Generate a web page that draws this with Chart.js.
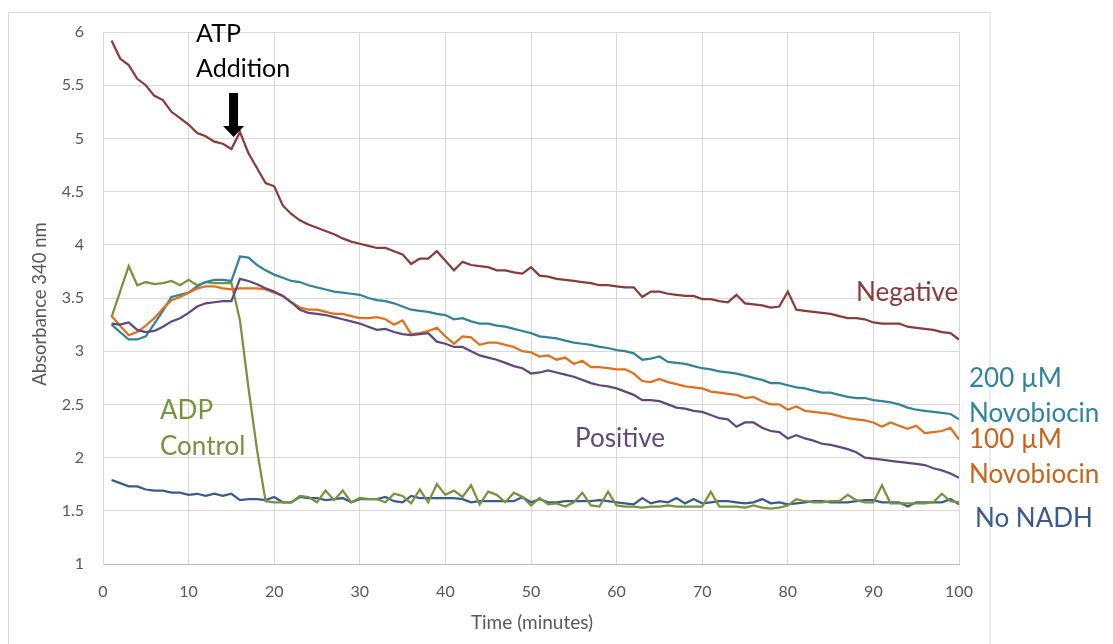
<!DOCTYPE html>
<html>
<head>
<meta charset="utf-8">
<script src="https://cdn.jsdelivr.net/npm/chart.js@4.4.1/dist/chart.umd.min.js"></script>
<style>
  html, body { margin: 0; padding: 0; background: #ffffff; }
  #wrap { width: 1113px; height: 644px; position: relative; }
</style>
</head>
<body>
<div id="wrap"><canvas id="chart" width="1113" height="644"></canvas></div>
<script>
// Time points (minutes)
const minutes = [
  1,2,3,4,5,6,7,8,9,10,11,12,13,14,15,16,17,18,19,20,
  21,22,23,24,25,26,27,28,29,30,31,32,33,34,35,36,37,38,39,40,
  41,42,43,44,45,46,47,48,49,50,51,52,53,54,55,56,57,58,59,60,
  61,62,63,64,65,66,67,68,69,70,71,72,73,74,75,76,77,78,79,80,
  81,82,83,84,85,86,87,88,89,90,91,92,93,94,95,96,97,98,99,100
];

// Absorbance at 340 nm for each condition
const negative = [
  5.92,5.75,5.69,5.56,5.50,5.40,5.36,5.25,5.19,5.13,5.05,5.02,4.97,4.95,4.90,5.06,4.86,4.72,4.58,4.55,
  4.37,4.29,4.23,4.19,4.16,4.13,4.10,4.06,4.03,4.01,3.99,3.97,3.97,3.94,3.91,3.82,3.87,3.87,3.94,3.85,
  3.76,3.84,3.81,3.80,3.79,3.76,3.76,3.74,3.73,3.79,3.71,3.70,3.68,3.67,3.66,3.65,3.64,3.62,3.62,3.61,
  3.60,3.60,3.51,3.56,3.56,3.54,3.53,3.52,3.52,3.49,3.49,3.47,3.46,3.53,3.45,3.44,3.43,3.41,3.42,3.56,
  3.39,3.38,3.37,3.36,3.35,3.33,3.31,3.31,3.30,3.27,3.26,3.26,3.26,3.23,3.22,3.21,3.20,3.18,3.17,3.11
];
const novobiocin200 = [
  3.25,3.18,3.11,3.11,3.14,3.26,3.38,3.51,3.53,3.55,3.61,3.65,3.67,3.67,3.66,3.89,3.88,3.81,3.76,3.72,
  3.69,3.66,3.65,3.62,3.60,3.58,3.56,3.55,3.54,3.53,3.50,3.48,3.47,3.45,3.42,3.39,3.38,3.37,3.35,3.34,
  3.30,3.31,3.28,3.26,3.26,3.24,3.23,3.21,3.19,3.17,3.14,3.13,3.12,3.10,3.08,3.07,3.06,3.04,3.03,3.01,
  3.00,2.98,2.92,2.93,2.95,2.90,2.89,2.88,2.86,2.84,2.83,2.81,2.80,2.79,2.77,2.75,2.73,2.70,2.70,2.68,
  2.66,2.65,2.63,2.61,2.61,2.59,2.57,2.56,2.56,2.54,2.53,2.52,2.50,2.47,2.45,2.44,2.43,2.42,2.41,2.36
];
const novobiocin100 = [
  3.33,3.24,3.15,3.18,3.24,3.31,3.40,3.48,3.51,3.55,3.59,3.61,3.61,3.59,3.58,3.59,3.59,3.59,3.58,3.55,
  3.52,3.46,3.41,3.39,3.39,3.37,3.35,3.35,3.33,3.31,3.31,3.32,3.30,3.25,3.29,3.16,3.17,3.19,3.22,3.14,
  3.07,3.14,3.13,3.06,3.08,3.08,3.06,3.04,3.00,2.99,2.95,2.96,2.92,2.94,2.88,2.91,2.85,2.85,2.84,2.83,
  2.83,2.79,2.72,2.71,2.74,2.71,2.69,2.67,2.66,2.65,2.62,2.61,2.60,2.59,2.56,2.57,2.53,2.50,2.50,2.45,
  2.48,2.44,2.43,2.42,2.41,2.39,2.37,2.36,2.35,2.33,2.29,2.33,2.30,2.27,2.30,2.23,2.24,2.25,2.28,2.17
];
const positive = [
  3.26,3.25,3.27,3.20,3.18,3.19,3.23,3.28,3.31,3.36,3.42,3.45,3.46,3.47,3.47,3.68,3.66,3.63,3.59,3.56,
  3.52,3.46,3.39,3.36,3.35,3.34,3.32,3.30,3.28,3.26,3.23,3.20,3.21,3.18,3.16,3.15,3.16,3.17,3.09,3.07,
  3.04,3.04,3.00,2.96,2.94,2.92,2.89,2.86,2.84,2.79,2.80,2.82,2.80,2.78,2.76,2.73,2.70,2.68,2.67,2.65,
  2.62,2.59,2.54,2.54,2.53,2.50,2.47,2.46,2.44,2.43,2.40,2.37,2.36,2.29,2.33,2.33,2.28,2.25,2.24,2.18,
  2.21,2.18,2.16,2.13,2.12,2.10,2.08,2.05,2.00,1.99,1.98,1.97,1.96,1.95,1.94,1.93,1.90,1.88,1.85,1.81
];
const adpControl = [
  3.32,3.56,3.80,3.62,3.65,3.63,3.64,3.66,3.62,3.67,3.62,3.65,3.64,3.64,3.64,3.29,2.65,2.07,1.59,1.58,
  1.58,1.58,1.64,1.63,1.58,1.69,1.60,1.69,1.58,1.62,1.61,1.61,1.58,1.66,1.64,1.57,1.70,1.58,1.75,1.65,
  1.69,1.63,1.74,1.56,1.68,1.65,1.58,1.67,1.63,1.55,1.62,1.56,1.57,1.54,1.58,1.67,1.55,1.54,1.68,1.55,
  1.54,1.54,1.53,1.54,1.54,1.55,1.54,1.54,1.54,1.54,1.68,1.54,1.54,1.54,1.53,1.55,1.53,1.52,1.53,1.55,
  1.61,1.59,1.58,1.58,1.59,1.59,1.65,1.60,1.58,1.58,1.74,1.57,1.57,1.57,1.57,1.57,1.58,1.66,1.59,1.58
];
const noNADH = [
  1.79,1.76,1.73,1.73,1.70,1.69,1.69,1.67,1.67,1.65,1.66,1.64,1.66,1.64,1.66,1.60,1.61,1.61,1.60,1.63,
  1.58,1.58,1.63,1.62,1.62,1.60,1.61,1.62,1.58,1.61,1.61,1.61,1.63,1.59,1.58,1.64,1.62,1.62,1.62,1.62,
  1.62,1.61,1.58,1.59,1.59,1.59,1.59,1.59,1.63,1.58,1.61,1.58,1.58,1.59,1.59,1.59,1.59,1.60,1.59,1.58,
  1.57,1.56,1.62,1.57,1.59,1.58,1.62,1.57,1.61,1.57,1.58,1.59,1.59,1.58,1.57,1.58,1.61,1.57,1.58,1.56,
  1.57,1.58,1.59,1.59,1.58,1.58,1.58,1.59,1.60,1.60,1.58,1.58,1.58,1.54,1.58,1.58,1.58,1.58,1.61,1.56
];

// Axis tick settings
const xTicks = { min: 0, max: 100, step: 10 };
const yTicks = { min: 1, max: 6, step: 0.5 };

const COLORS = {
  negative: '#8a3b3b',
  nov200: '#31849b',
  nov100: '#e0701e',
  nov100Text: '#c8641c',
  positive: '#604a7b',
  adp: '#77933c',
  noNADH: '#3b5a8f',
  grid: '#d9d9d9',
  text: '#595959'
};

const FONT = 'Lato, "Open Sans", sans-serif';

function series(values) {
  return minutes.map((m, i) => ({ x: m, y: values[i] }));
}

function lineSet(label, values, color) {
  return {
    label,
    data: series(values),
    borderColor: color,
    backgroundColor: color,
    borderWidth: 2.25,
    pointRadius: 0,
    tension: 0,
    fill: false
  };
}

// Draws the outer frame, in-chart labels, axis titles and the ATP arrow
const annotations = {
  id: 'annotations',
  beforeDraw(chart) {
    const ctx = chart.ctx;
    ctx.save();
    ctx.fillStyle = '#ffffff';
    ctx.fillRect(0, 0, chart.width, chart.height);
    ctx.strokeStyle = COLORS.grid;
    ctx.lineWidth = 1;
    ctx.strokeRect(8.5, 12.5, 981.5, 700);
    ctx.restore();
  },
  afterDraw(chart) {
    const ctx = chart.ctx;
    const xs = chart.scales.x;
    ctx.save();

    // axis titles
    ctx.fillStyle = COLORS.text;
    ctx.textAlign = 'center';
    ctx.textBaseline = 'middle';
    ctx.font = '19px ' + FONT;
    ctx.fillText('Time (minutes)', 532, 623);
    ctx.save();
    ctx.translate(40, 304);
    ctx.rotate(-Math.PI / 2);
    ctx.font = '18.5px ' + FONT;
    ctx.fillText('Absorbance 340 nm', 0, 0);
    ctx.restore();

    // ATP addition note and arrow
    ctx.textAlign = 'left';
    ctx.textBaseline = 'alphabetic';
    ctx.fillStyle = '#000000';
    ctx.font = '25px ' + FONT;
    ctx.fillText('ATP', 196, 42);
    ctx.fillText('Addition', 196, 77);

    const ax = xs.getPixelForValue(15.25);
    ctx.beginPath();
    ctx.moveTo(ax - 4.5, 93);
    ctx.lineTo(ax + 4.5, 93);
    ctx.lineTo(ax + 4.5, 126);
    ctx.lineTo(ax + 10.5, 126);
    ctx.lineTo(ax, 137);
    ctx.lineTo(ax - 10.5, 126);
    ctx.lineTo(ax - 4.5, 126);
    ctx.closePath();
    ctx.fill();

    // series labels
    ctx.font = '26px ' + FONT;
    const labels = [
      ['Negative', 856, 301, COLORS.negative],
      ['200 \u00b5M', 969, 387, COLORS.nov200],
      ['Novobiocin', 969, 422, COLORS.nov200],
      ['100 \u00b5M', 969, 448, COLORS.nov100Text],
      ['Novobiocin', 969, 483, COLORS.nov100Text],
      ['No NADH', 975, 527, COLORS.noNADH],
      ['Positive', 575, 447, COLORS.positive],
      ['ADP', 160, 419, COLORS.adp],
      ['Control', 160, 455, COLORS.adp]
    ];
    labels.forEach(([t, x, y, c]) => {
      ctx.fillStyle = c;
      ctx.fillText(t, x, y);
    });
    ctx.restore();
  }
};

new Chart(document.getElementById('chart'), {
  type: 'line',
  data: {
    datasets: [
      lineSet('Negative', negative, COLORS.negative),
      lineSet('Positive', positive, COLORS.positive),
      lineSet('100 \u00b5M Novobiocin', novobiocin100, COLORS.nov100),
      lineSet('200 \u00b5M Novobiocin', novobiocin200, COLORS.nov200),
      lineSet('ADP Control', adpControl, COLORS.adp),
      lineSet('No NADH', noNADH, COLORS.noNADH)
    ]
  },
  options: {
    responsive: false,
    animation: false,
    events: [],
    layout: { padding: { left: 0, right: 154, top: 32, bottom: 0 } },
    plugins: {
      legend: { display: false },
      tooltip: { enabled: false }
    },
    scales: {
      x: {
        type: 'linear',
        min: xTicks.min,
        max: xTicks.max,
        ticks: {
          stepSize: xTicks.step,
          color: COLORS.text,
          font: { family: FONT, size: 16 },
          padding: 18,
          maxRotation: 0
        },
        grid: { color: COLORS.grid, lineWidth: 1, drawTicks: false },
        border: { color: '#bfbfbf', width: 1 },
        afterFit(scale) { scale.height = 80; }
      },
      y: {
        type: 'linear',
        min: yTicks.min,
        max: yTicks.max,
        ticks: {
          stepSize: yTicks.step,
          color: COLORS.text,
          font: { family: FONT, size: 16 },
          padding: 19,
          callback: (v) => String(v)
        },
        grid: { color: COLORS.grid, lineWidth: 1, drawTicks: false },
        border: { color: COLORS.grid, width: 1 },
        afterFit(scale) { scale.width = 103; }
      }
    }
  },
  plugins: [annotations]
});
</script>
</body>
</html>
